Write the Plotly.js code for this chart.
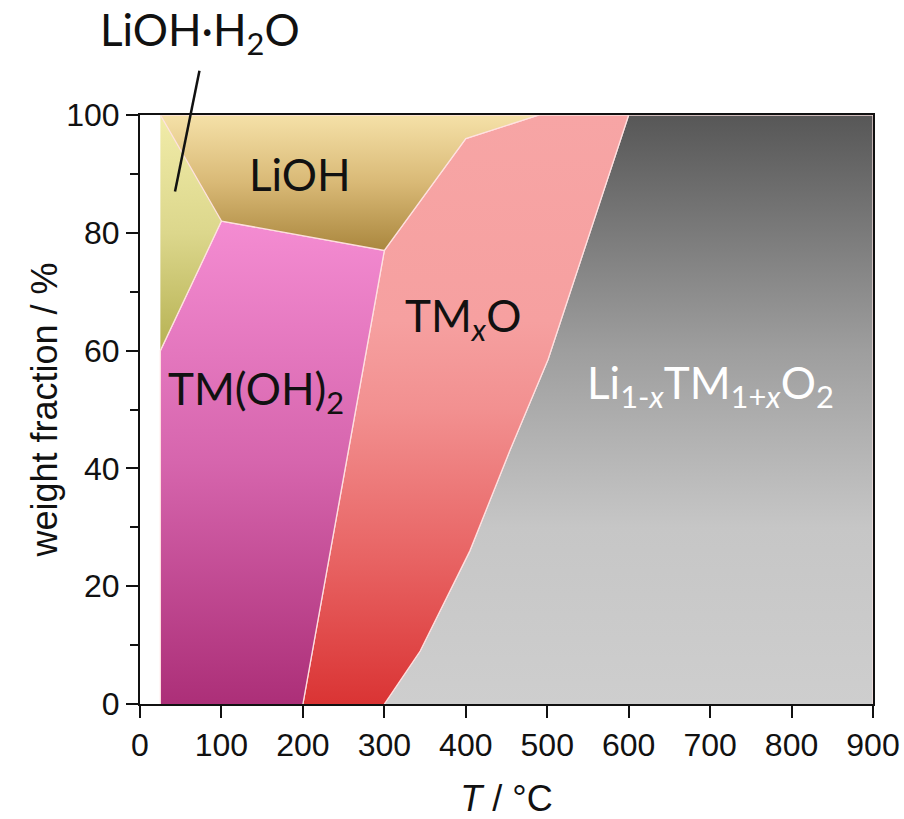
<!DOCTYPE html>
<html>
<head>
<meta charset="utf-8">
<script src="https://cdn.plot.ly/plotly-3.0.1.min.js"></script>
<style>html,body{margin:0;padding:0;background:#fff;}#chart{width:904px;height:819px;}</style>
</head>
<body>
<div id="chart"></div>
<script>
// Phase regions: temperature T (°C) vs weight fraction (%)
const h2oT  = [25, 100, 25];
const h2oW  = [100, 82, 60];

const liohT = [25, 490, 400, 300, 100];
const liohW = [100, 100, 96, 77, 82];

const tmohT = [25, 25, 100, 300, 200];
const tmohW = [0, 60, 82, 77, 0];

// boundary between TMxO and Li(1-x)TM(1+x)O2
const oxBoundT = [300, 344, 405, 454, 501, 600];
const oxBoundW = [0, 9, 26, 43, 58.5, 100];

const tmxoUpperT = [200, 300, 400, 490];
const tmxoUpperW = [0, 77, 96, 100];

const lmoCornerT = [900, 900];
const lmoCornerW = [100, 0];

// labels
const labelText = ['LiOH', 'TM(OH)<sub>2</sub>', 'TM<sub><i>x</i></sub>O', 'Li<sub>1-<i>x</i></sub>TM<sub>1+<i>x</i></sub>O<sub>2</sub>'];
const labelT = [197, 142, 397, 700];
const labelW = [90, 53, 65.5, 54];
const labelColor = ['#111', '#111', '#111', '#ffffff'];

// pointer for LiOH·H2O
const ptrT = [73, 43];
const ptrW = [107.5, 87];

const edge = {color: 'rgba(255,225,225,0.95)', width: 1.3};

const tmxoT = tmxoUpperT.concat(oxBoundT.slice().reverse());
const tmxoW = tmxoUpperW.concat(oxBoundW.slice().reverse());
const lmoT = oxBoundT.concat(lmoCornerT);
const lmoW = oxBoundW.concat(lmoCornerW);

function region(x, y, cs, y0, y1) {
  return {
    type: 'scatter', mode: 'lines', x: x, y: y, fill: 'toself',
    line: edge, hoverinfo: 'skip', showlegend: false,
    fillgradient: {type: 'vertical', colorscale: cs, start: y0, stop: y1}
  };
}

const traces = [
  region(lmoT, lmoW, [[0, '#cecece'], [0.3, '#c6c6c6'], [0.6, '#9e9e9e'], [1, '#575757']], 0, 100),
  region(tmxoT, tmxoW, [[0, '#da3434'], [0.25, '#e86464'], [0.5, '#f29090'], [0.65, '#f6a0a0'], [1, '#f7a5a5']], 0, 100),
  region(tmohT, tmohW, [[0, '#ac2f78'], [0.5, '#d665ad'], [1, '#f48cd2']], 0, 82),
  region(liohT, liohW, [[0, '#aa873e'], [0.5, '#d9b976'], [1, '#f5e1a8']], 77, 100),
  region(h2oT, h2oW, [[0, '#b6b152'], [0.5, '#dcd78c'], [1, '#f1eca9']], 60, 100)
];

const annotations = labelText.map((t, i) => ({
  x: labelT[i], y: labelW[i], xref: 'x', yref: 'y', text: t, showarrow: false,
  xanchor: 'center', yanchor: 'middle',
  font: {family: 'Lato, sans-serif', size: 44, color: labelColor[i]}
}));
annotations.push({
  x: 0.082, y: 1.14, xref: 'paper', yref: 'paper', text: 'LiOH·H<sub>2</sub>O', showarrow: false,
  xanchor: 'center', yanchor: 'middle',
  font: {family: 'Lato, sans-serif', size: 44, color: '#111'}
});

const layout = {
  width: 904, height: 819,
  margin: {l: 140, r: 31, t: 115, b: 115},
  paper_bgcolor: '#fff', plot_bgcolor: '#fff',
  showlegend: false,
  xaxis: {
    range: [0, 900], tickvals: [0,100,200,300,400,500,600,700,800,900],
    showgrid: false, zeroline: false, showline: true, mirror: true,
    linecolor: '#111', linewidth: 2, ticks: 'outside', ticklen: 12, tickwidth: 2, tickcolor: '#111',
    tickfont: {family: 'Liberation Sans, Arial, sans-serif', size: 32, color: '#111'},
    title: {text: '<i>T</i> / °C', font: {family: 'Liberation Sans, Arial, sans-serif', size: 36, color: '#111'}}
  },
  yaxis: {
    range: [0, 100], tickvals: [0,20,40,60,80,100],
    showgrid: false, zeroline: false, showline: true, mirror: true,
    linecolor: '#111', linewidth: 2, ticks: 'outside', ticklen: 12, tickwidth: 2, tickcolor: '#111',
    minor: {tickvals: [10,30,50,70,90], ticks: 'outside', ticklen: 8, tickwidth: 2, tickcolor: '#111', showgrid: false},
    tickfont: {family: 'Liberation Sans, Arial, sans-serif', size: 32, color: '#111'},
    title: {text: 'weight fraction / %', font: {family: 'Liberation Sans, Arial, sans-serif', size: 36, color: '#111'}}
  },
  annotations: annotations,
  shapes: [{
    type: 'line', xref: 'paper', yref: 'paper',
    x0: ptrT[0] / 900, y0: ptrW[0] / 100, x1: ptrT[1] / 900, y1: ptrW[1] / 100,
    line: {color: '#111', width: 2.5}
  }]
};

Plotly.newPlot('chart', traces, layout, {displayModeBar: false, staticPlot: true});
</script>
</body>
</html>
